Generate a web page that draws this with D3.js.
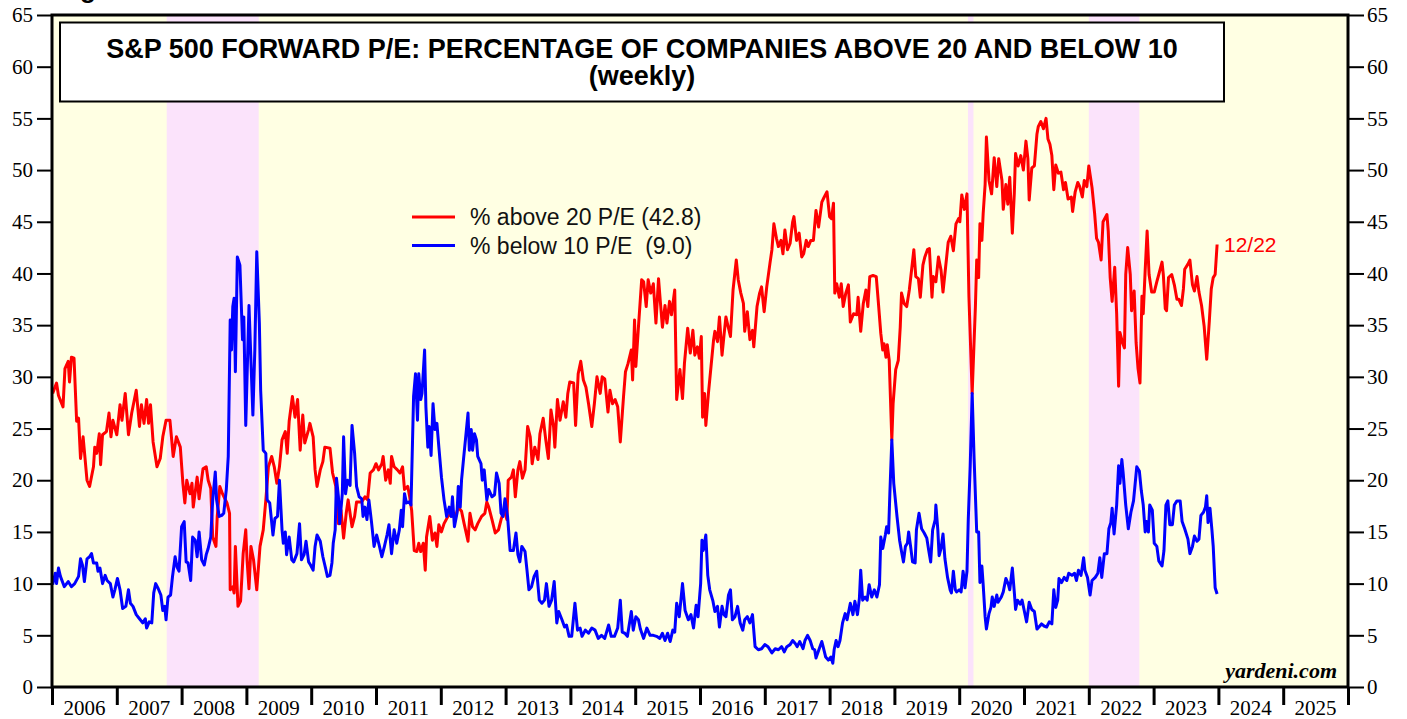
<!DOCTYPE html>
<html>
<head>
<meta charset="utf-8">
<script src="https://cdn.jsdelivr.net/npm/d3@7"></script>
<style>
  body { margin: 0; background: #fff; }
  svg { display: block; }
  .axis .tick text { font-family: "Liberation Serif", "Times New Roman", serif; font-size: 21px; fill: #000; }
  .axis .tick line { stroke: #000; }
</style>
</head>
<body>
<div id="chart"></div>
<script>
// 1: GLOBAL SIZES
const W = 1407, H = 719;
const margin = { top: 15, right: 59, bottom: 32, left: 52 };
const width = W - margin.left - margin.right;
const height = H - margin.top - margin.bottom;

// 2: DATA (decimal years)
const yearTicks = d3.range(2006, 2027);
const yearLabels = d3.range(2006, 2026);
const yTicks = d3.range(0, 66, 5);

// shaded periods (S&P 500 bear markets)
const bearMarkets = [[2007.77, 2009.19], [2020.135, 2020.22], [2022.0, 2022.78]];

// % of companies with forward P/E above 20
const above20 = [
  [2006.01,28.4],[2006.07,29.4],[2006.10,28.2],[2006.17,27.1],[2006.20,30.8],[2006.25,31.5],[2006.27,29.5],[2006.30,31.9],[2006.34,31.8],[2006.38,25.7],
  [2006.41,26.0],[2006.44,22.1],[2006.48,24.2],[2006.54,20.0],[2006.58,19.4],[2006.64,21.3],[2006.66,23.2],[2006.69,22.6],[2006.73,24.5],[2006.75,21.5],
  [2006.78,24.4],[2006.84,24.7],[2006.88,26.5],[2006.91,24.2],[2006.94,25.8],[2007.00,24.4],[2007.05,27.3],[2007.08,25.8],[2007.13,28.4],[2007.18,24.4],
  [2007.23,26.5],[2007.30,28.7],[2007.35,25.2],[2007.38,27.3],[2007.42,25.5],[2007.46,27.8],[2007.49,25.5],[2007.52,27.3],[2007.56,23.7],[2007.62,21.3],
  [2007.67,22.1],[2007.71,24.2],[2007.76,25.8],[2007.82,25.8],[2007.87,22.3],[2007.92,24.2],[2007.98,23.2],[2008.02,19.7],[2008.05,17.8],[2008.08,20.0],
  [2008.13,18.7],[2008.16,19.7],[2008.18,17.4],[2008.24,20.3],[2008.27,18.2],[2008.33,21.1],[2008.38,21.3],[2008.41,20.0],[2008.45,19.2],[2008.48,14.5],
  [2008.53,13.6],[2008.55,16.5],[2008.59,19.4],[2008.63,18.7],[2008.70,17.8],[2008.74,16.8],[2008.75,9.4],[2008.79,9.7],[2008.81,9.1],[2008.83,13.6],
  [2008.87,7.8],[2008.91,8.3],[2008.95,12.9],[2008.99,15.2],[2009.01,12.3],[2009.04,9.5],[2009.07,13.6],[2009.11,12.3],[2009.16,9.4],[2009.21,13.6],
  [2009.26,15.2],[2009.30,18.1],[2009.34,21.3],[2009.39,22.3],[2009.43,21.3],[2009.47,19.7],[2009.51,21.3],[2009.55,23.9],[2009.60,24.7],[2009.63,22.6],
  [2009.66,25.7],[2009.71,28.1],[2009.75,26.1],[2009.79,27.8],[2009.83,22.9],[2009.87,26.3],[2009.90,23.6],[2009.96,24.9],[2009.98,25.5],[2010.03,24.2],
  [2010.06,21.0],[2010.09,19.4],[2010.14,21.0],[2010.18,21.8],[2010.21,23.2],[2010.29,23.1],[2010.33,20.7],[2010.38,19.4],[2010.42,15.8],[2010.46,17.1],
  [2010.50,14.4],[2010.54,16.8],[2010.57,18.1],[2010.63,15.5],[2010.67,16.5],[2010.70,17.9],[2010.78,17.9],[2010.83,18.4],[2010.87,18.1],[2010.91,20.7],
  [2010.96,21.0],[2011.00,21.6],[2011.04,21.0],[2011.09,21.6],[2011.11,22.3],[2011.15,20.0],[2011.19,21.0],[2011.22,19.7],[2011.24,22.3],[2011.28,21.3],
  [2011.33,21.0],[2011.37,20.7],[2011.41,21.3],[2011.44,19.1],[2011.49,19.4],[2011.52,18.4],[2011.55,17.1],[2011.59,13.2],[2011.63,13.1],[2011.66,13.9],
  [2011.69,13.1],[2011.73,13.9],[2011.76,11.3],[2011.78,14.5],[2011.83,16.5],[2011.87,14.2],[2011.91,14.9],[2011.94,13.6],[2011.97,15.7],[2012.01,15.0],
  [2012.05,15.8],[2012.11,16.5],[2012.17,16.8],[2012.22,16.3],[2012.27,17.4],[2012.32,17.0],[2012.36,15.8],[2012.42,14.1],[2012.45,16.8],[2012.49,15.5],
  [2012.53,15.2],[2012.57,15.8],[2012.63,16.5],[2012.68,16.8],[2012.71,17.9],[2012.74,17.4],[2012.79,16.2],[2012.84,14.9],[2012.89,15.2],[2012.93,16.2],
  [2012.98,17.1],[2013.02,16.2],[2013.04,20.0],[2013.09,20.3],[2013.12,21.0],[2013.15,18.4],[2013.19,21.0],[2013.22,21.8],[2013.26,20.2],[2013.30,21.0],
  [2013.34,25.2],[2013.38,24.2],[2013.41,21.6],[2013.45,23.2],[2013.50,22.0],[2013.53,24.5],[2013.58,26.0],[2013.62,23.9],[2013.66,22.1],[2013.70,26.8],
  [2013.74,25.2],[2013.76,23.2],[2013.80,27.8],[2013.84,25.8],[2013.89,27.6],[2013.93,26.1],[2013.96,28.4],[2013.99,29.5],[2014.05,29.4],[2014.08,25.3],
  [2014.12,30.3],[2014.16,31.5],[2014.20,29.7],[2014.24,29.0],[2014.28,27.4],[2014.33,25.2],[2014.37,27.4],[2014.41,30.0],[2014.46,28.4],[2014.49,30.0],
  [2014.53,29.8],[2014.58,26.6],[2014.61,28.7],[2014.65,27.4],[2014.69,27.8],[2014.73,27.1],[2014.77,23.7],[2014.82,28.1],[2014.85,30.5],[2014.89,31.3],
  [2014.94,32.6],[2014.96,29.7],[2014.99,35.5],[2015.01,31.0],[2015.05,34.8],[2015.10,39.4],[2015.13,39.2],[2015.17,36.8],[2015.20,39.4],[2015.24,38.1],
  [2015.28,39.0],[2015.32,35.2],[2015.36,39.5],[2015.39,37.1],[2015.42,34.8],[2015.46,36.9],[2015.49,35.2],[2015.53,37.3],[2015.56,36.0],[2015.61,38.4],
  [2015.64,27.8],[2015.69,30.7],[2015.73,27.9],[2015.76,31.3],[2015.81,34.7],[2015.85,32.3],[2015.89,34.5],[2015.92,32.1],[2015.96,32.9],[2015.99,31.8],
  [2016.02,33.9],[2016.04,26.1],[2016.07,28.4],[2016.09,25.3],[2016.13,28.4],[2016.17,31.0],[2016.21,33.6],[2016.23,34.4],[2016.27,33.4],[2016.30,35.8],
  [2016.34,32.1],[2016.37,34.0],[2016.40,35.8],[2016.44,34.7],[2016.47,33.9],[2016.51,38.4],[2016.56,41.3],[2016.59,39.4],[2016.63,38.1],[2016.67,37.1],
  [2016.69,34.4],[2016.73,36.3],[2016.77,33.6],[2016.81,34.5],[2016.83,32.9],[2016.88,36.8],[2016.92,38.1],[2016.95,38.7],[2016.99,36.3],[2017.03,38.7],
  [2017.08,41.0],[2017.11,42.3],[2017.14,44.8],[2017.18,43.4],[2017.21,42.6],[2017.25,43.2],[2017.28,41.9],[2017.31,44.2],[2017.35,42.3],[2017.39,42.9],
  [2017.43,45.0],[2017.45,45.5],[2017.49,43.2],[2017.53,43.9],[2017.57,41.6],[2017.60,41.9],[2017.64,43.2],[2017.67,42.6],[2017.71,43.2],[2017.75,43.2],
  [2017.79,46.1],[2017.83,44.5],[2017.88,46.9],[2017.91,47.3],[2017.96,47.9],[2018.00,45.5],[2018.03,45.3],[2018.06,46.8],[2018.08,38.1],[2018.11,39.0],
  [2018.15,37.7],[2018.18,39.0],[2018.21,36.8],[2018.25,38.1],[2018.29,38.9],[2018.32,35.3],[2018.37,36.1],[2018.42,36.0],[2018.44,37.7],[2018.48,34.4],
  [2018.52,37.1],[2018.56,38.4],[2018.59,36.8],[2018.62,39.7],[2018.67,39.8],[2018.72,39.7],[2018.75,37.4],[2018.79,34.2],[2018.82,32.6],[2018.84,33.2],
  [2018.87,31.9],[2018.89,33.1],[2018.92,31.6],[2018.96,23.9],[2018.98,27.4],[2019.02,30.7],[2019.06,31.6],[2019.09,34.8],[2019.11,38.1],[2019.15,37.1],
  [2019.19,36.8],[2019.23,38.4],[2019.27,40.6],[2019.30,42.3],[2019.33,39.7],[2019.37,39.5],[2019.40,37.7],[2019.44,40.8],[2019.47,41.6],[2019.51,42.3],
  [2019.54,42.4],[2019.58,37.7],[2019.60,39.7],[2019.64,39.2],[2019.68,41.6],[2019.72,40.3],[2019.75,38.2],[2019.79,40.6],[2019.83,43.0],[2019.87,43.6],
  [2019.91,42.2],[2019.95,44.8],[2019.99,45.3],[2020.01,45.0],[2020.04,47.6],[2020.08,46.2],[2020.12,47.7],[2020.15,37.8],[2020.20,28.4],[2020.25,36.8],
  [2020.27,41.3],[2020.30,39.6],[2020.32,44.8],[2020.35,43.2],[2020.37,45.8],[2020.40,48.6],[2020.42,53.2],[2020.46,49.0],[2020.50,47.7],[2020.54,51.2],
  [2020.58,48.4],[2020.61,51.1],[2020.66,49.0],[2020.68,46.2],[2020.72,48.6],[2020.75,46.7],[2020.78,49.3],[2020.82,43.9],[2020.85,47.7],[2020.87,51.6],
  [2020.91,50.4],[2020.95,51.4],[2020.99,50.0],[2021.03,52.8],[2021.06,51.1],[2021.08,47.1],[2021.12,50.2],[2021.16,50.4],[2021.20,53.5],[2021.22,54.2],
  [2021.26,54.7],[2021.30,54.0],[2021.34,55.0],[2021.37,53.0],[2021.40,52.5],[2021.43,51.4],[2021.46,48.1],[2021.49,50.5],[2021.53,49.7],[2021.57,49.8],
  [2021.61,48.1],[2021.64,48.8],[2021.68,47.2],[2021.73,47.4],[2021.75,46.0],[2021.79,47.9],[2021.83,48.8],[2021.86,48.4],[2021.90,47.4],[2021.93,49.0],
  [2021.97,48.4],[2022.00,50.4],[2022.05,48.3],[2022.09,45.8],[2022.12,43.4],[2022.15,43.0],[2022.19,41.3],[2022.22,45.0],[2022.28,45.7],[2022.30,44.1],
  [2022.33,39.6],[2022.36,37.3],[2022.40,40.6],[2022.43,36.1],[2022.46,29.1],[2022.48,34.3],[2022.52,33.3],[2022.55,32.8],[2022.57,39.9],[2022.60,42.5],
  [2022.64,39.9],[2022.66,36.4],[2022.70,38.3],[2022.73,33.3],[2022.76,30.8],[2022.79,29.4],[2022.82,37.8],[2022.84,36.1],[2022.87,40.3],[2022.90,44.1],
  [2022.93,39.9],[2022.97,38.2],[2023.01,38.2],[2023.05,39.2],[2023.08,39.9],[2023.13,41.1],[2023.15,39.9],[2023.18,36.6],[2023.20,36.4],[2023.23,39.6],
  [2023.28,39.9],[2023.32,38.9],[2023.36,37.5],[2023.39,37.5],[2023.43,36.9],[2023.46,38.5],[2023.48,40.4],[2023.53,40.9],[2023.56,41.3],[2023.60,38.9],
  [2023.63,38.3],[2023.67,39.7],[2023.70,38.2],[2023.74,36.9],[2023.78,34.9],[2023.82,31.7],[2023.86,35.4],[2023.89,38.5],[2023.92,39.6],[2023.95,39.9],
  [2023.98,42.8]
];

// % of companies with forward P/E below 10
const below10 = [
  [2006.01,9.9],[2006.05,11.0],[2006.07,10.0],[2006.10,11.5],[2006.13,10.7],[2006.19,9.7],[2006.25,10.2],[2006.30,9.7],[2006.35,10.0],[2006.41,10.7],
  [2006.44,12.4],[2006.47,11.8],[2006.50,10.2],[2006.54,12.4],[2006.58,12.6],[2006.61,12.9],[2006.64,12.0],[2006.69,12.0],[2006.71,11.2],[2006.74,11.5],
  [2006.78,10.0],[2006.82,10.8],[2006.85,10.3],[2006.90,10.0],[2006.94,8.7],[2006.97,9.4],[2007.01,10.5],[2007.05,9.4],[2007.09,7.6],[2007.14,7.8],
  [2007.18,9.4],[2007.21,8.1],[2007.25,7.8],[2007.30,7.0],[2007.35,6.6],[2007.40,6.2],[2007.44,6.6],[2007.46,5.7],[2007.50,6.3],[2007.54,6.2],
  [2007.57,9.1],[2007.60,10.0],[2007.64,9.5],[2007.68,8.9],[2007.71,7.4],[2007.74,7.8],[2007.76,6.5],[2007.79,8.7],[2007.83,8.9],[2007.86,10.7],
  [2007.90,12.6],[2007.93,11.6],[2007.96,11.2],[2008.00,15.5],[2008.04,16.0],[2008.07,12.1],[2008.10,12.0],[2008.14,10.3],[2008.17,14.5],[2008.21,14.2],
  [2008.24,12.6],[2008.27,15.0],[2008.31,12.3],[2008.35,11.8],[2008.38,12.8],[2008.41,13.4],[2008.45,14.5],[2008.48,18.1],[2008.52,20.8],[2008.54,18.1],
  [2008.58,16.5],[2008.62,16.6],[2008.65,16.8],[2008.69,19.1],[2008.72,22.3],[2008.75,35.5],[2008.77,32.6],[2008.79,36.8],[2008.81,37.6],[2008.83,30.5],
  [2008.86,41.6],[2008.90,40.8],[2008.94,33.6],[2008.96,35.8],[2008.99,25.3],[2009.04,36.9],[2009.10,26.3],[2009.13,32.6],[2009.16,42.1],[2009.20,35.2],
  [2009.22,28.7],[2009.26,22.9],[2009.30,22.6],[2009.32,18.1],[2009.36,17.8],[2009.41,14.7],[2009.44,16.3],[2009.48,16.5],[2009.51,20.0],[2009.55,15.2],
  [2009.57,13.9],[2009.60,15.0],[2009.62,12.8],[2009.66,14.5],[2009.70,12.3],[2009.73,12.1],[2009.78,12.9],[2009.82,15.8],[2009.85,12.3],[2009.89,12.8],
  [2009.92,14.1],[2009.96,12.1],[2009.99,11.8],[2010.03,11.3],[2010.06,13.6],[2010.09,14.7],[2010.14,14.1],[2010.18,12.6],[2010.21,11.8],[2010.25,10.7],
  [2010.29,10.8],[2010.32,12.0],[2010.34,13.9],[2010.37,15.2],[2010.39,20.2],[2010.42,18.4],[2010.44,15.8],[2010.48,18.7],[2010.50,24.2],[2010.53,18.7],
  [2010.56,20.0],[2010.60,19.5],[2010.63,25.3],[2010.67,22.6],[2010.70,19.4],[2010.74,18.4],[2010.78,18.2],[2010.80,16.5],[2010.83,17.4],[2010.86,16.2],
  [2010.89,18.1],[2010.93,16.0],[2010.97,13.6],[2011.01,14.7],[2011.05,13.7],[2011.09,12.6],[2011.13,13.6],[2011.17,14.7],[2011.20,15.7],[2011.24,12.9],
  [2011.28,15.2],[2011.32,13.9],[2011.36,15.2],[2011.39,17.1],[2011.41,15.5],[2011.44,18.7],[2011.47,17.8],[2011.51,17.9],[2011.54,17.6],[2011.58,28.1],
  [2011.61,30.3],[2011.64,25.8],[2011.66,30.3],[2011.69,27.8],[2011.71,28.4],[2011.75,32.6],[2011.77,27.1],[2011.80,23.2],[2011.82,25.2],[2011.85,22.4],
  [2011.88,27.4],[2011.91,24.9],[2011.94,25.5],[2011.97,23.2],[2012.01,20.3],[2012.05,18.1],[2012.09,16.5],[2012.13,17.4],[2012.16,16.5],[2012.18,18.4],
  [2012.21,15.5],[2012.25,16.8],[2012.27,19.4],[2012.30,17.4],[2012.32,20.0],[2012.35,22.0],[2012.38,23.9],[2012.42,26.5],[2012.44,22.9],[2012.47,24.9],
  [2012.49,22.9],[2012.52,24.5],[2012.55,23.9],[2012.57,22.3],[2012.62,21.6],[2012.64,20.0],[2012.67,21.0],[2012.71,18.1],[2012.74,19.1],[2012.79,18.4],
  [2012.83,18.6],[2012.86,20.7],[2012.90,19.7],[2012.93,16.8],[2012.96,16.5],[2012.99,18.2],[2013.03,16.5],[2013.07,13.2],[2013.12,13.2],[2013.16,14.9],
  [2013.19,12.8],[2013.22,12.1],[2013.25,13.6],[2013.30,13.1],[2013.33,11.3],[2013.36,9.4],[2013.40,9.7],[2013.44,10.7],[2013.48,11.2],[2013.52,8.4],
  [2013.56,8.1],[2013.60,8.4],[2013.63,10.0],[2013.67,7.8],[2013.71,8.4],[2013.75,10.2],[2013.79,6.2],[2013.82,7.3],[2013.87,6.5],[2013.91,5.8],
  [2013.94,6.0],[2013.98,4.9],[2014.02,4.9],[2014.07,8.1],[2014.11,5.5],[2014.15,5.7],[2014.18,4.9],[2014.23,5.5],[2014.28,5.2],[2014.33,5.7],
  [2014.38,5.5],[2014.43,4.7],[2014.48,5.0],[2014.53,4.7],[2014.59,6.0],[2014.63,4.9],[2014.68,4.9],[2014.73,5.7],[2014.77,8.4],[2014.80,5.3],
  [2014.84,5.2],[2014.88,4.9],[2014.94,7.3],[2014.97,5.5],[2015.01,6.8],[2015.05,6.5],[2015.08,5.6],[2015.13,4.7],[2015.18,5.7],[2015.23,5.0],
  [2015.28,5.0],[2015.33,4.9],[2015.38,4.7],[2015.42,5.2],[2015.46,4.5],[2015.50,5.2],[2015.54,4.4],[2015.58,5.5],[2015.61,5.3],[2015.64,8.1],
  [2015.68,6.8],[2015.73,10.0],[2015.77,7.4],[2015.82,6.5],[2015.86,7.0],[2015.90,5.7],[2015.94,7.9],[2015.97,6.8],[2016.01,10.0],[2016.03,14.2],
  [2016.05,13.2],[2016.09,14.7],[2016.12,10.8],[2016.15,9.4],[2016.20,8.3],[2016.23,7.3],[2016.27,7.8],[2016.30,5.8],[2016.34,7.8],[2016.37,7.0],
  [2016.40,6.8],[2016.44,8.9],[2016.47,9.4],[2016.50,6.5],[2016.54,6.8],[2016.58,7.8],[2016.62,6.2],[2016.66,5.5],[2016.69,6.5],[2016.73,6.8],
  [2016.77,6.2],[2016.81,7.0],[2016.85,3.9],[2016.90,3.6],[2016.95,3.7],[2017.00,4.1],[2017.05,3.9],[2017.11,3.3],[2017.16,3.7],[2017.21,3.6],
  [2017.26,3.9],[2017.30,3.4],[2017.34,3.9],[2017.39,4.1],[2017.43,4.5],[2017.47,4.2],[2017.50,3.9],[2017.54,4.4],[2017.59,3.7],[2017.62,4.5],
  [2017.66,5.0],[2017.70,4.5],[2017.74,3.7],[2017.77,3.6],[2017.79,2.8],[2017.84,3.7],[2017.88,4.4],[2017.90,3.9],[2017.94,2.9],[2017.98,2.6],
  [2018.02,2.9],[2018.05,2.3],[2018.07,3.6],[2018.10,4.5],[2018.13,3.9],[2018.16,4.5],[2018.20,6.2],[2018.24,7.1],[2018.27,6.5],[2018.32,8.1],
  [2018.36,7.0],[2018.39,8.3],[2018.43,7.0],[2018.46,8.6],[2018.48,11.3],[2018.51,8.4],[2018.55,8.7],[2018.58,8.4],[2018.61,9.9],[2018.65,8.7],
  [2018.69,9.4],[2018.73,8.7],[2018.77,9.9],[2018.79,14.5],[2018.82,13.4],[2018.86,14.7],[2018.88,15.5],[2018.91,14.9],[2018.93,18.7],[2018.96,23.9],
  [2018.99,19.7],[2019.04,16.5],[2019.08,14.2],[2019.11,13.1],[2019.14,12.1],[2019.17,13.6],[2019.20,13.9],[2019.22,15.0],[2019.25,13.6],[2019.28,12.1],
  [2019.32,12.0],[2019.34,15.2],[2019.38,16.8],[2019.42,15.3],[2019.46,14.9],[2019.50,14.4],[2019.53,13.2],[2019.56,12.1],[2019.59,15.2],[2019.63,16.2],
  [2019.64,17.6],[2019.67,15.2],[2019.69,12.7],[2019.72,13.4],[2019.75,14.8],[2019.78,12.4],[2019.82,10.6],[2019.86,9.4],[2019.88,9.1],[2019.91,11.2],
  [2019.94,9.4],[2019.96,9.2],[2020.00,9.4],[2020.03,9.2],[2020.06,11.2],[2020.09,9.6],[2020.12,11.2],[2020.14,16.2],[2020.17,21.4],[2020.20,28.4],
  [2020.23,22.1],[2020.27,15.0],[2020.30,15.0],[2020.32,10.1],[2020.35,11.7],[2020.37,9.9],[2020.40,6.8],[2020.42,5.6],[2020.46,7.1],[2020.49,7.7],
  [2020.51,8.7],[2020.54,7.8],[2020.58,8.9],[2020.60,8.2],[2020.65,8.7],[2020.68,9.2],[2020.72,10.5],[2020.76,9.9],[2020.78,9.4],[2020.82,11.5],
  [2020.85,9.2],[2020.87,7.5],[2020.90,8.4],[2020.94,8.0],[2020.97,8.4],[2021.00,7.5],[2021.04,6.3],[2021.08,8.2],[2021.12,7.5],[2021.16,7.3],
  [2021.20,5.6],[2021.23,5.8],[2021.27,6.1],[2021.31,5.9],[2021.35,5.8],[2021.39,6.3],[2021.43,6.1],[2021.46,9.4],[2021.49,7.7],[2021.52,8.4],
  [2021.54,10.5],[2021.58,10.1],[2021.62,10.6],[2021.66,10.3],[2021.69,11.0],[2021.74,10.8],[2021.78,11.0],[2021.81,10.3],[2021.84,11.3],[2021.88,10.8],
  [2021.92,12.5],[2021.94,11.3],[2021.98,10.6],[2022.02,8.9],[2022.05,10.3],[2022.10,10.6],[2022.14,11.0],[2022.17,12.5],[2022.20,10.6],[2022.24,12.9],
  [2022.28,12.9],[2022.31,15.3],[2022.34,15.9],[2022.36,17.3],[2022.39,14.8],[2022.43,17.6],[2022.46,21.4],[2022.48,19.7],[2022.51,22.0],[2022.53,20.7],
  [2022.57,17.6],[2022.61,15.3],[2022.65,16.9],[2022.69,18.0],[2022.71,19.3],[2022.74,21.3],[2022.78,20.9],[2022.81,19.0],[2022.84,17.6],[2022.87,15.0],
  [2022.89,16.0],[2022.92,15.0],[2022.94,17.6],[2022.98,17.1],[2023.01,13.9],[2023.05,13.6],[2023.08,12.2],[2023.13,11.7],[2023.16,13.2],[2023.19,17.6],
  [2023.22,18.0],[2023.25,15.7],[2023.29,15.7],[2023.32,17.6],[2023.36,18.0],[2023.41,18.0],[2023.44,16.0],[2023.48,15.3],[2023.53,14.3],[2023.56,12.9],
  [2023.60,13.6],[2023.63,14.6],[2023.67,14.1],[2023.70,14.3],[2023.73,16.6],[2023.77,16.9],[2023.80,17.4],[2023.82,18.5],[2023.84,15.9],[2023.87,17.3],
  [2023.90,15.2],[2023.92,13.6],[2023.95,9.6],[2023.98,9.0]
];

// 3: SVG
const svgRoot = d3.select("#chart")
    .append("svg")
    .attr("width", W)
    .attr("height", H);

// partly cut-off caption above the frame
svgRoot.append("text")
    .attr("x", 57)
    .attr("y", -2)
    .attr("font-family", "Liberation Sans, Arial, sans-serif")
    .attr("font-weight", "bold")
    .attr("font-size", "26px")
    .text("Figure");

const svg = svgRoot.append("g")
    .attr("transform", `translate(${margin.left},${margin.top})`);

// 4: SCALES
const xScale = d3.scaleLinear().domain([2006, 2026]).range([0, width]);
const yScale = d3.scaleLinear().domain([0, 65]).range([height, 0]);

// background + shaded periods
svg.append("rect")
    .attr("width", width)
    .attr("height", height)
    .attr("fill", "#ffffe3");

svg.selectAll(".bear")
    .data(bearMarkets)
    .join("rect")
    .attr("class", "bear")
    .attr("x", d => xScale(d[0]))
    .attr("width", d => xScale(d[1]) - xScale(d[0]))
    .attr("y", 0)
    .attr("height", height)
    .attr("fill", "#fbe3fb");

// title box
svg.append("rect")
    .attr("x", 8)
    .attr("y", 7.5)
    .attr("width", 1164)
    .attr("height", 79)
    .attr("fill", "#fff")
    .attr("stroke", "#000")
    .attr("stroke-width", 2);

const title = svg.append("text")
    .attr("text-anchor", "middle")
    .attr("font-family", "Liberation Sans, Arial, sans-serif")
    .attr("font-weight", "bold")
    .attr("font-size", "27px");
title.append("tspan").attr("x", 590).attr("y", 43)
    .text("S&P 500 FORWARD P/E: PERCENTAGE OF COMPANIES ABOVE 20 AND BELOW 10");
title.append("tspan").attr("x", 590).attr("y", 70)
    .text("(weekly)");

// 5: LINES
const line = d3.line()
    .x(d => xScale(d[0]))
    .y(d => yScale(d[1]));

svg.append("path")
    .datum(above20)
    .attr("fill", "none")
    .attr("stroke", "#ff0000")
    .attr("stroke-width", 3)
    .attr("stroke-linejoin", "round")
    .attr("d", line);

svg.append("path")
    .datum(below10)
    .attr("fill", "none")
    .attr("stroke", "#0000ff")
    .attr("stroke-width", 3)
    .attr("stroke-linejoin", "round")
    .attr("d", line);

// 6: AXES
const yLeft = svg.append("g")
    .attr("class", "axis")
    .call(d3.axisLeft(yScale).tickValues(yTicks).tickSize(15).tickPadding(4));
yLeft.select(".domain").remove();
yLeft.selectAll(".tick line").attr("stroke-width", 2);

const yRight = svg.append("g")
    .attr("class", "axis")
    .attr("transform", `translate(${width},0)`)
    .call(d3.axisRight(yScale).tickValues(yTicks).tickSize(16).tickPadding(3));
yRight.select(".domain").remove();
yRight.selectAll(".tick line").attr("stroke-width", 2);

const xAxis = svg.append("g")
    .attr("class", "axis")
    .attr("transform", `translate(0,${height})`)
    .call(d3.axisBottom(xScale).tickValues(yearTicks).tickSize(18).tickFormat(""));
xAxis.select(".domain").remove();
xAxis.selectAll(".tick line").attr("stroke-width", 3);

svg.append("g")
    .selectAll("text")
    .data(yearLabels)
    .join("text")
    .attr("x", d => xScale(d + 0.5))
    .attr("y", height + 28)
    .attr("text-anchor", "middle")
    .attr("font-family", "Liberation Serif, Times New Roman, serif")
    .attr("font-size", "21px")
    .text(d => d);

// frame
svg.append("rect")
    .attr("width", width)
    .attr("height", height)
    .attr("fill", "none")
    .attr("stroke", "#000")
    .attr("stroke-width", 3);

// 7: LEGEND + LABELS
const legendItems = [
    { label: "% above 20 P/E (42.8)", color: "#ff0000" },
    { label: "% below 10 P/E  (9.0)", color: "#0000ff" }
];
const legend = svg.append("g").attr("transform", "translate(360,202)");
legendItems.forEach((item, i) => {
    const row = legend.append("g").attr("transform", `translate(0, ${i * 28.5})`);
    row.append("line")
        .attr("x1", 0).attr("x2", 43)
        .attr("stroke", item.color)
        .attr("stroke-width", 3);
    row.append("text")
        .attr("x", 58)
        .attr("y", 8)
        .attr("font-family", "Liberation Sans, Arial, sans-serif")
        .attr("font-size", "23px")
        .attr("fill", "#111")
        .style("white-space", "pre")
        .text(item.label);
});

svg.append("text")
    .attr("x", 1172)
    .attr("y", 237)
    .attr("font-family", "Liberation Sans, Arial, sans-serif")
    .attr("font-size", "21px")
    .attr("fill", "#ff0000")
    .text("12/22");

svg.append("text")
    .attr("x", 1285)
    .attr("y", 663)
    .attr("text-anchor", "end")
    .attr("font-family", "Liberation Serif, Times New Roman, serif")
    .attr("font-weight", "bold")
    .attr("font-style", "italic")
    .attr("font-size", "22px")
    .text("yardeni.com");
</script>
</body>
</html>
